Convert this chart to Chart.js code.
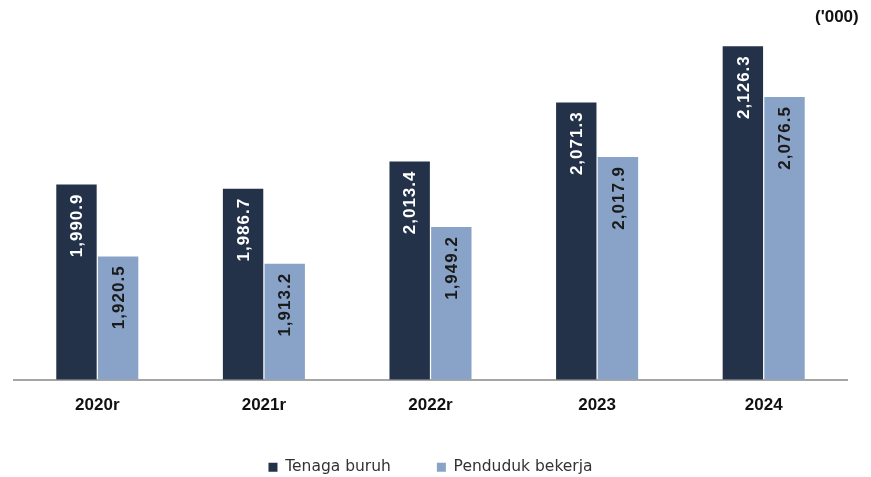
<!DOCTYPE html>
<html>
<head>
<meta charset="utf-8">
<script src="https://cdn.jsdelivr.net/npm/chart.js@4/dist/chart.umd.min.js"></script>
<style>
html,body{margin:0;padding:0;background:#fff;}
#wrap{position:relative;width:871px;height:477px;}
#unit{position:absolute;left:815px;top:7px;font:bold 17px "Liberation Sans",Arial,sans-serif;color:#111;}
</style>
</head>
<body>
<div id="wrap"><canvas id="c" width="871" height="477"></canvas><div id="unit">('000)</div></div>
<script>
const categories = ['2020r', '2021r', '2022r', '2023', '2024'];
const tenagaBuruh = [1990.9, 1986.7, 2013.4, 2071.3, 2126.3];
const pendudukBekerja = [1920.5, 1913.2, 1949.2, 2017.9, 2076.5];
const seriesNames = ['Tenaga buruh', 'Penduduk bekerja'];

const fmt = v => v.toLocaleString('en-US', {minimumFractionDigits: 1, maximumFractionDigits: 1});

const labelPlugin = {
  id: 'barLabels',
  afterDatasetsDraw(chart) {
    const ctx = chart.ctx;
    const colors = ['#ffffff', '#1a1a1a'];
    chart.data.datasets.forEach((ds, di) => {
      const meta = chart.getDatasetMeta(di);
      meta.data.forEach((bar, i) => {
        ctx.save();
        ctx.translate(bar.x, bar.y + 9);
        ctx.rotate(-Math.PI / 2);
        ctx.font = 'bold 17px "Liberation Sans Narrow", "Liberation Sans", Arial, sans-serif';
        ctx.letterSpacing = '1px';
        ctx.fillStyle = colors[di];
        ctx.textAlign = 'right';
        ctx.textBaseline = 'middle';
        ctx.fillText(fmt(ds.data[i]), 0, 1);
        ctx.restore();
      });
    });
  }
};

new Chart(document.getElementById('c'), {
  type: 'bar',
  data: {
    labels: categories,
    datasets: [
      {label: seriesNames[0], data: tenagaBuruh, backgroundColor: '#233249', barPercentage: 0.97, categoryPercentage: 0.5},
      {label: seriesNames[1], data: pendudukBekerja, backgroundColor: '#89a3c8', barPercentage: 0.97, categoryPercentage: 0.5}
    ]
  },
  options: {
    responsive: false,
    animation: false,
    layout: {padding: {left: 14, right: 24, top: 22, bottom: -8}},
    plugins: {
      tooltip: {enabled: false},
      legend: {
        position: 'bottom',
        labels: {
          boxWidth: 9, boxHeight: 9, padding: 46,
          color: '#333',
          font: {family: '"DejaVu Sans", sans-serif', size: 15.5}
        }
      }
    },
    scales: {
      x: {
        grid: {display: false, drawTicks: false},
        border: {color: '#a6a6a6', width: 2},
        ticks: {color: '#111', padding: 16, font: {family: '"Liberation Sans", Arial, sans-serif', size: 17, weight: 'bold'}},
        afterFit(s) { s.height = 34; }
      },
      y: {display: false, min: 1800, max: 2150}
    }
  },
  plugins: [labelPlugin]
});
</script>
</body>
</html>
